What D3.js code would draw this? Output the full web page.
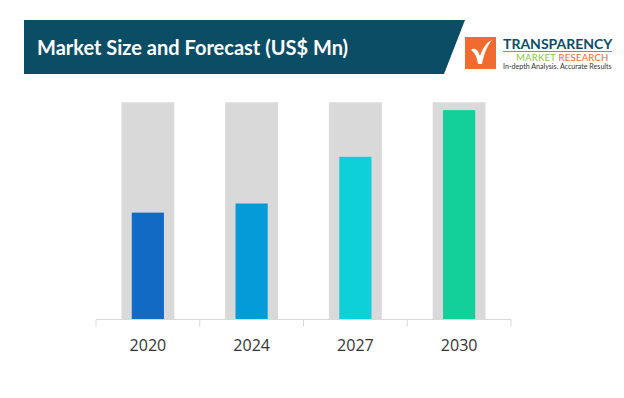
<!DOCTYPE html>
<html lang="en">
<head>
<meta charset="UTF-8">
<title>Market Size and Forecast</title>
<style>
  html, body { margin: 0; padding: 0; background: #fff; }
  svg { display: block; font-family: 'Open Sans', sans-serif; }
</style>
</head>
<body>
<div id="chart"></div>
<script src="https://d3js.org/d3.v7.min.js"></script>
<script>
// data
const years = ["2020", "2024", "2027", "2030"];
const values = [49.2, 53.4, 74.9, 96.4];
const maxValue = 100;
const barColours = ["#126ac4", "#049bd8", "#0dd0d8", "#13d09a"];

const width = 624, height = 398;

const svg = d3.select("#chart")
  .append("svg")
  .attr("width", width)
  .attr("height", height);

// HEADER BANNER
svg.append("path")
  .attr("d", "M24,20 L465,20 L444,74 L24,74 Z")
  .attr("fill", "#0c4d66");

svg.append("text")
  .attr("x", 37)
  .attr("y", 55)
  .attr("fill", "#fff")
  .style("font-family", "Lato, sans-serif")
  .style("font-weight", 700)
  .style("font-size", "20px")
  .text("Market Size and Forecast (US$ Mn)");

// LOGO
const logo = svg.append("g");
logo.append("rect")
  .attr("x", 465).attr("y", 37)
  .attr("width", 31).attr("height", 32)
  .attr("fill", "#f26a2e");
logo.append("path")
  .attr("d", "M471,50 C474,47 478,49 480,56 C483,47 487,42 492,40 C487,46 484,54 482,64 L478,64 C477,57 475,53 471,50 Z")
  .attr("fill", "#fff");
logo.append("text")
  .attr("x", 503).attr("y", 49)
  .attr("fill", "#0c4d66")
  .style("font-family", "Lato, sans-serif")
  .style("font-weight", 700)
  .style("font-size", "14px")
  .text("TRANSPARENCY");
logo.append("line")
  .attr("x1", 503).attr("x2", 612)
  .attr("y1", 51.5).attr("y2", 51.5)
  .attr("stroke", "#f26a2e")
  .attr("stroke-width", 1);
const mr = logo.append("text")
  .attr("x", 516).attr("y", 60.5)
  .style("font-family", "Lato, sans-serif")
  .style("font-size", "9.6px")
  .style("letter-spacing", "0.2px");
mr.append("tspan").attr("fill", "#8cc63f").text("MARKET ");
mr.append("tspan").attr("fill", "#f26a2e").text("RESEARCH");
logo.append("text")
  .attr("x", 503).attr("y", 69)
  .attr("fill", "#333")
  .style("font-family", "Lato, sans-serif")
  .style("font-size", "7.1px")
  .text("In-depth Analysis. Accurate Results");

// SCALES
const x = d3.scaleBand()
  .domain(years)
  .range([96, 511]);

const y = d3.scaleLinear()
  .domain([0, maxValue])
  .range([319.5, 102.3]);

const bw = x.bandwidth();
const bgW = bw * 0.51;
const barW = bw * 0.31;

// BACKGROUND BARS
svg.selectAll(".bg")
  .data(years).enter()
  .append("rect")
  .attr("class", "bg")
  .attr("x", d => x(d) + bw / 2 - bgW / 2)
  .attr("y", y(maxValue))
  .attr("width", bgW)
  .attr("height", y(0) - y(maxValue))
  .attr("fill", "#d9d9d9");

// VALUE BARS
svg.selectAll(".bar")
  .data(values).enter()
  .append("rect")
  .attr("class", "bar")
  .attr("x", (d, i) => x(years[i]) + bw / 2 - barW / 2)
  .attr("y", d => y(d))
  .attr("width", barW)
  .attr("height", d => y(0) - y(d))
  .attr("fill", (d, i) => barColours[i]);

// X AXIS
const axis = svg.append("g")
  .attr("transform", `translate(0, ${y(0)})`);
axis.append("line")
  .attr("x1", x.range()[0]).attr("x2", x.range()[1])
  .attr("stroke", "#d9d9d9");
axis.selectAll(".tick-line")
  .data(years.map(d => x(d)).concat([x.range()[1]])).enter()
  .append("line")
  .attr("x1", d => d).attr("x2", d => d)
  .attr("y1", 0).attr("y2", 7)
  .attr("stroke", "#d9d9d9");
axis.selectAll(".lbl")
  .data(years).enter()
  .append("text")
  .attr("x", d => x(d) + bw / 2)
  .attr("y", 31)
  .attr("text-anchor", "middle")
  .attr("fill", "#333")
  .style("font-size", "16px")
  .text(d => d);
</script>
</body>
</html>
